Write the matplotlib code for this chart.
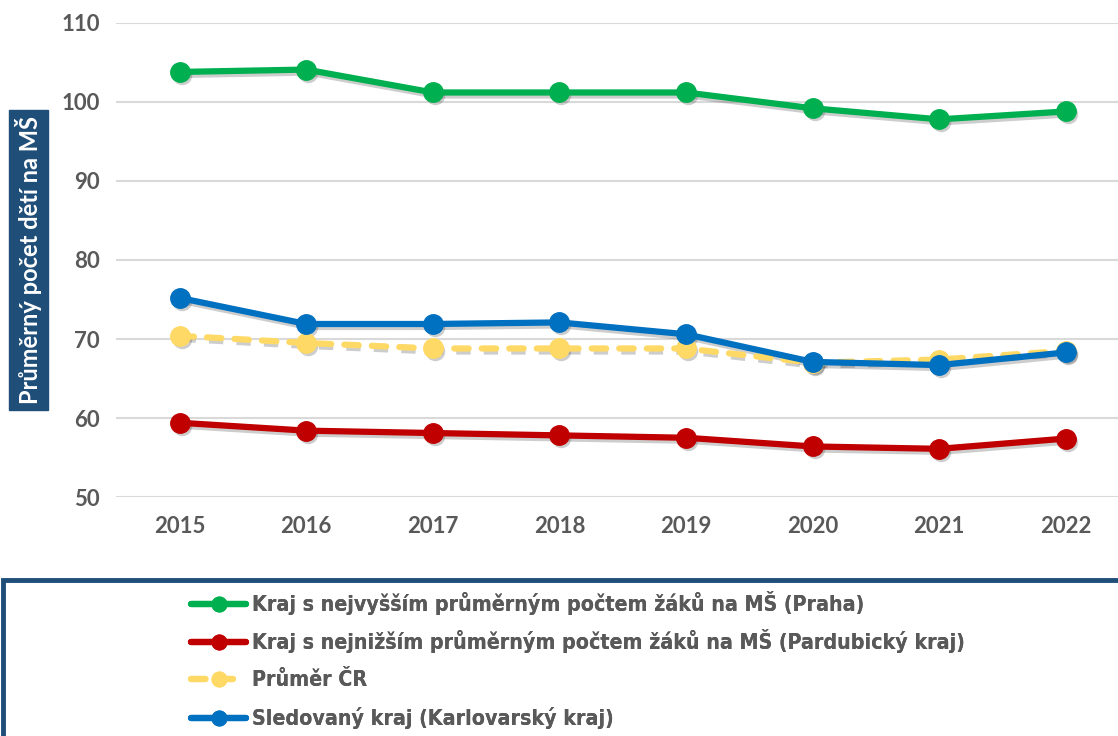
"""Průměrný počet dětí na MŠ: kraje s nejvyšším/nejnižším průměrem, průměr ČR a sledovaný kraj."""

import matplotlib.pyplot as plt
from matplotlib import font_manager
from matplotlib.font_manager import FontProperties
from matplotlib.patches import Rectangle
from matplotlib.transforms import offset_copy

years = ["2015", "2016", "2017", "2018", "2019", "2020", "2021", "2022"]
praha = [103.8, 104.1, 101.2, 101.2, 101.2, 99.2, 97.8, 98.8]
pardubicky = [59.4, 58.4, 58.1, 57.8, 57.5, 56.4, 56.1, 57.4]
prumer_cr = [70.4, 69.5, 68.8, 68.8, 68.8, 67.0, 67.4, 68.5]
karlovarsky = [75.2, 71.9, 71.9, 72.1, 70.6, 67.1, 66.7, 68.3]

series_labels = [
    "Kraj s nejvyšším průměrným počtem žáků na MŠ (Praha)",
    "Kraj s nejnižším průměrným počtem žáků na MŠ (Pardubický kraj)",
    "Průměr ČR",
    "Sledovaný kraj (Karlovarský kraj)",
]
y_ticks = [50, 60, 70, 80, 90, 100, 110]

GREEN = "#00B050"
RED = "#C00000"
YELLOW = "#FFD966"
BLUE = "#0070C0"
NAVY = "#1F4E79"
GREY_TXT = "#595959"

plt.rcParams["font.family"] = ["Lato", "DejaVu Sans"]

# the legend text in the source is narrow and semi-bold; use a condensed face if one is installed
condensed = [f for f in font_manager.fontManager.ttflist
             if f.stretch in ("condensed", "semi-condensed") and f.style == "normal"]
legend_prop = FontProperties(family=["Lato", "DejaVu Sans"], size=14, weight="bold")
found = False
for weight in (600, 500, 700, 400):
    for wanted in ("Liberation Sans Narrow", "Open Sans", "Noto Sans", "DejaVu Sans"):
        hits = [f for f in condensed if f.name == wanted and f.weight == weight]
        if hits:
            legend_prop = FontProperties(fname=hits[0].fname, size=15.3)
            found = True
            break
    if found:
        break

fig = plt.figure(figsize=(11.18, 7.36), dpi=100)
ax = fig.add_axes([0.104, 0.3247, 0.906, 0.6441])

x = list(range(len(years)))
common = dict(linewidth=4.5, marker="o", markersize=14, solid_capstyle="round")
shadow_tr = offset_copy(ax.transData, fig=fig, x=2, y=-3, units="dots")

series = [(praha, GREEN, "-"), (pardubicky, RED, "-"), (prumer_cr, YELLOW, (0, (2.3, 2.1))),
          (karlovarsky, BLUE, "-")]
handles = []
for (vals, color, ls), label in zip(series, series_labels):
    ax.plot(x, vals, color="#3a3a3a", alpha=0.25, linestyle=ls, transform=shadow_tr,
            markeredgewidth=0, zorder=2, **common)
    line, = ax.plot(x, vals, color=color, linestyle=ls, label=label, dash_capstyle="round",
                    zorder=4 if color == BLUE else 3, **common)
    handles.append(line)

ax.set_xlim(-0.5, len(years) - 0.5)
ax.set_ylim(50, 110)
ax.set_yticks(y_ticks)
ax.set_xticks(x)
ax.set_xticklabels(years)
ax.grid(axis="y", color="#D9D9D9", linewidth=1.5)
ax.set_axisbelow(True)
for spine in ax.spines.values():
    spine.set_visible(False)
ax.tick_params(length=0, labelsize=16, labelcolor=GREY_TXT, pad=12)
ax.tick_params(axis="x", pad=14)
for lab in ax.get_xticklabels() + ax.get_yticklabels():
    lab.set_fontweight("bold")

# navy y-axis title box
fig.text(0.0255, 0.647, "Průměrný počet dětí na MŠ", rotation=90, ha="center", va="center",
         color="white", fontsize=17, fontweight="bold",
         bbox=dict(boxstyle="square,pad=0.25", facecolor=NAVY, edgecolor=NAVY))

# legend frame running off the right and bottom edges
fig.patches.append(Rectangle((0.003, -0.05), 1.1, 0.262, transform=fig.transFigure,
                             facecolor="white", edgecolor=NAVY, linewidth=3.5, zorder=0))

# one legend per row so the rows sit at even spacing
row_y = [0.1807, 0.1291, 0.0761, 0.0245]
for h, y in zip(handles, row_y):
    leg = fig.legend(handles=[h], loc="center left", bbox_to_anchor=(0.1615, y), frameon=False,
                     prop=legend_prop, handlelength=2.6, handletextpad=0.25, borderpad=0,
                     labelcolor=GREY_TXT, markerscale=0.75)
    fig.add_artist(leg)

fig.savefig("out.png", dpi=100)
